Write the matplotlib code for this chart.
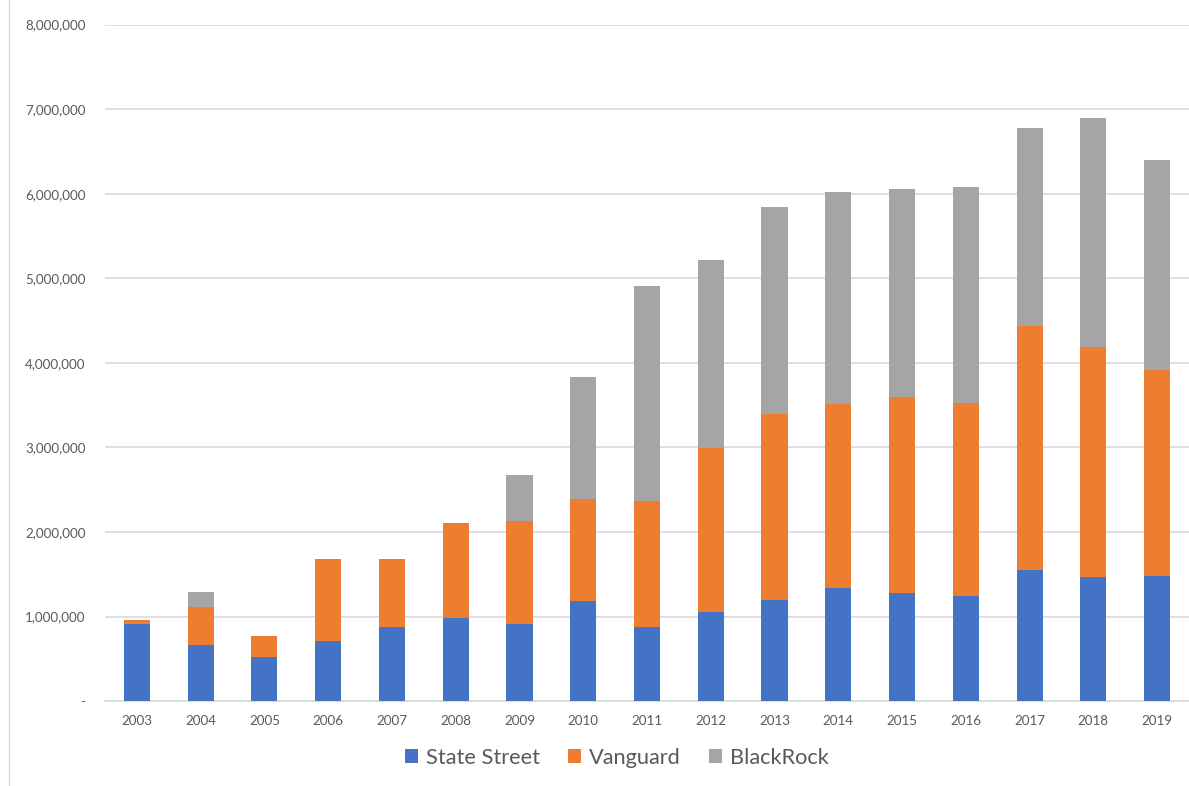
import numpy as np
import matplotlib.pyplot as plt
from matplotlib.lines import Line2D
from matplotlib.ticker import FuncFormatter

years = ["2003", "2004", "2005", "2006", "2007", "2008", "2009", "2010", "2011",
         "2012", "2013", "2014", "2015", "2016", "2017", "2018", "2019"]

# cumulative tops
state_street = [915000, 662000, 520000, 706000, 871000, 978000, 907000, 1179000, 871000,
                1049000, 1199000, 1333000, 1280000, 1240000, 1553000, 1466000, 1475000]
vanguard_top = [954000, 1108000, 773000, 1680000, 1680000, 2106000, 2125000, 2390000, 2362000,
                2989000, 3399000, 3510000, 3600000, 3530000, 4440000, 4190000, 3920000]
blackrock_top = [954000, 1289000, 773000, 1680000, 1680000, 2106000, 2670000, 3833000, 4905000,
                 5217000, 5840000, 6020000, 6060000, 6080000, 6780000, 6890000, 6400000]

ss = np.array(state_street)
vg = np.array(vanguard_top) - ss
br = np.array(blackrock_top) - np.array(vanguard_top)

plt.rcParams['font.family'] = ['Lato', 'DejaVu Sans']

fig = plt.figure(figsize=(11.89, 7.86), dpi=100)
ax = fig.add_axes([0.0883, 0.108, 0.9117, 0.8608])

x = np.arange(len(years))
w = 0.41
ax.bar(x, ss, w, color='#4472C4', label='State Street', zorder=3)
ax.bar(x, vg, w, bottom=ss, color='#ED7D31', label='Vanguard', zorder=3)
ax.bar(x, br, w, bottom=ss + vg, color='#A5A5A5', label='BlackRock', zorder=3)

ax.set_xlim(-0.5, len(years) - 0.5)
ax.set_ylim(0, 8000000)
ax.set_yticks(np.arange(0, 8000001, 1000000))
ax.yaxis.set_major_formatter(FuncFormatter(lambda v, p: '-' if v == 0 else f'{int(v):,}'))
ax.set_xticks(x)
ax.set_xticklabels(years)
ax.grid(axis='y', color='#d9d9d9', linewidth=1.2, zorder=0)
for s in ['top', 'right', 'left']:
    ax.spines[s].set_visible(False)
ax.spines['bottom'].set_color('#d9d9d9')
ax.spines['bottom'].set_linewidth(1.2)
ax.tick_params(axis='y', length=0, pad=14, labelsize=9.6, labelcolor='#595959')
ax.tick_params(axis='x', length=0, pad=10, labelsize=9.6, labelcolor='#595959')

# chart frame edge on the left
fig.add_artist(Line2D([9 / 1189, 9 / 1189], [0, 1], color='#d9d9d9', linewidth=1))

fig.legend(loc='center', bbox_to_anchor=(617 / 1189, 1 - 758 / 786), ncol=3,
           frameon=False, fontsize=15.7, handlelength=0.6, handleheight=0.6,
           handletextpad=0.35, columnspacing=1.3, labelcolor='#595959')

fig.savefig('out.png', dpi=100)
